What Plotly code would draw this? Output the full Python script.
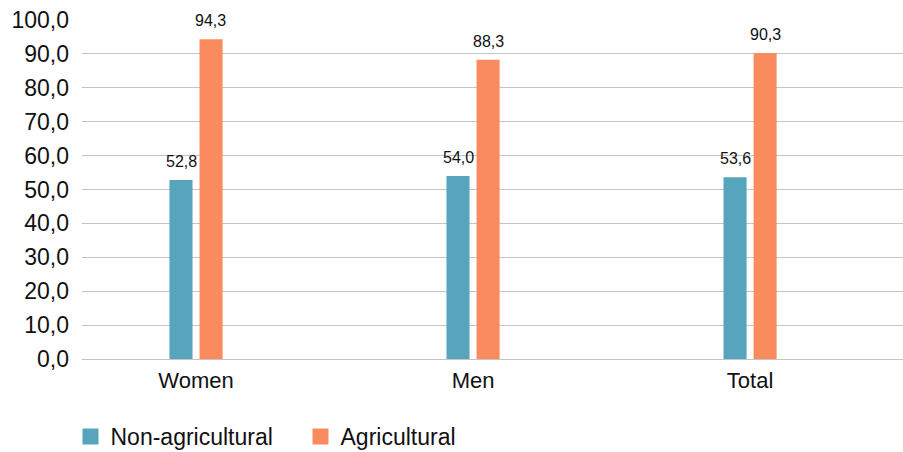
import plotly.graph_objects as go

categories = ["Women", "Men", "Total"]
non_agricultural = [52.8, 54.0, 53.6]
agricultural = [94.3, 88.3, 90.3]
series_names = ["Non-agricultural", "Agricultural"]
colors = ["#56A5BC", "#F98B5F"]
y_ticks = [0, 10, 20, 30, 40, 50, 60, 70, 80, 90, 100]

FONT = "Liberation Sans"

fig = go.Figure()
for name, vals, col in zip(series_names, [non_agricultural, agricultural], colors):
    fig.add_trace(go.Bar(
        x=categories, y=vals, name=name, marker_color=col,
        marker_line_width=0, showlegend=False,
    ))
# legend entries with larger square markers
for name, col in zip(series_names, colors):
    fig.add_trace(go.Scatter(
        x=[None], y=[None], mode="markers", name=name,
        marker=dict(symbol="square", size=16, color=col),
        showlegend=True,
    ))

# data labels
for i, (a, b) in enumerate(zip(non_agricultural, agricultural)):
    for v, off in ((a, -0.054), (b, 0.054)):
        fig.add_annotation(
            x=i + off, y=v, xref="x", yref="y",
            text=f"{v:.1f}".replace(".", ","),
            showarrow=False, yanchor="bottom", yshift=8,
            font=dict(family=FONT, size=16, color="#111111"),
        )

fig.update_layout(
    width=903, height=452,
    margin=dict(l=82, r=0, t=20, b=93, autoexpand=False),
    paper_bgcolor="white", plot_bgcolor="white",
    barmode="group", bargap=0.783, bargroupgap=0.233,
    separators=",.",
    font=dict(family=FONT, color="#111111"),
    showlegend=True,
    legend=dict(orientation="h", x=-0.014, xanchor="left", y=-0.165, yanchor="top",
                font=dict(family=FONT, size=23), itemwidth=30,
                entrywidth=185, entrywidthmode="pixels",
                traceorder="normal"),
)
fig.update_xaxes(
    type="category", range=[-0.4116, 2.552],
    showgrid=False, showline=False, zeroline=False,
    tickfont=dict(family=FONT, size=22), ticks="", ticklabelstandoff=6,
)
fig.update_yaxes(
    range=[0, 100], tickvals=y_ticks, tickformat=".1f",
    showgrid=True, gridcolor="#C4C4C4", gridwidth=1,
    zeroline=True, zerolinecolor="#C4C4C4", zerolinewidth=1,
    showline=False, ticks="", ticklabelstandoff=12,
    tickfont=dict(family=FONT, size=23),
)

fig.write_html("out.html")
